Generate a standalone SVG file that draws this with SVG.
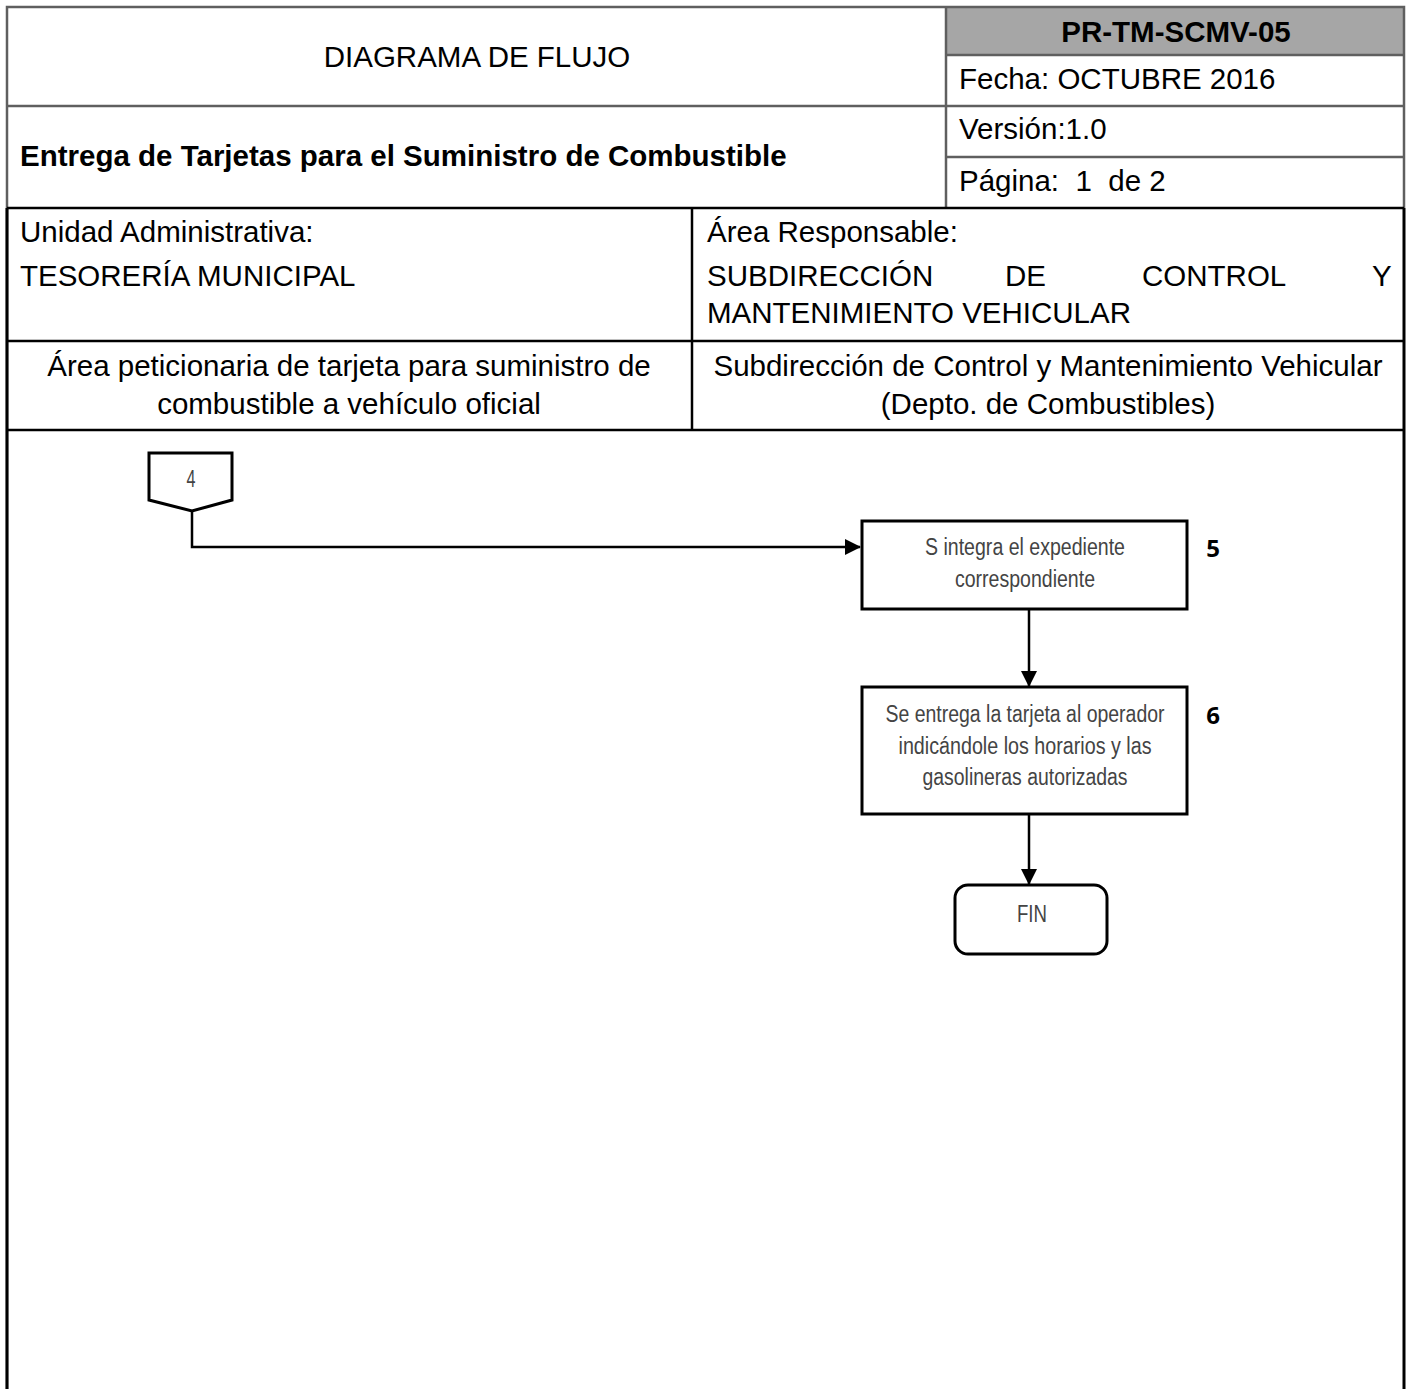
<svg xmlns="http://www.w3.org/2000/svg" width="1408" height="1389" viewBox="0 0 1408 1389">
<style>
.h{font-family:"Liberation Sans",Arial,sans-serif;font-size:29.5px;fill:#000}
.hb{font-family:"Liberation Sans",Arial,sans-serif;font-size:29.5px;font-weight:bold;fill:#000}
.gl{stroke:#5f5f5f;stroke-width:2.5;fill:none}
.bl{stroke:#000;stroke-width:2.5;fill:none}
.box{fill:#fff;stroke:#000;stroke-width:3}
.ft{font-family:"Liberation Sans Narrow","Liberation Sans",Arial,sans-serif;font-size:23px;fill:#444;text-anchor:middle}
.num{font-family:"Open Sans","Liberation Sans",sans-serif;font-size:24px;font-weight:bold;fill:#000;text-anchor:middle}
.cn{stroke:#000;stroke-width:2.5;fill:none}
</style>
<defs>
<marker id="ahb" markerWidth="16" markerHeight="16" refX="15" refY="8" orient="auto" markerUnits="userSpaceOnUse" viewBox="0 0 16 16">
<path d="M0,0 L16,8 L0,16 z" fill="#000"/>
</marker>
</defs>
<rect width="1408" height="1389" fill="#fff"/>
<g id="header">
<rect x="946" y="7" width="458" height="48" fill="#a6a6a6"/>
<path class="gl" d="M7,1389 V7 H1404 V208"/>
<line class="gl" x1="946" y1="7" x2="946" y2="208"/>
<line class="gl" x1="7" y1="106" x2="1404" y2="106"/>
<line class="gl" x1="946" y1="55" x2="1404" y2="55"/>
<line class="gl" x1="946" y1="157" x2="1404" y2="157"/>
<text class="h" x="477" y="67" text-anchor="middle">DIAGRAMA DE FLUJO</text>
<text class="hb" x="1176" y="42" text-anchor="middle">PR-TM-SCMV-05</text>
<text class="h" x="959" y="89">Fecha: OCTUBRE 2016</text>
<text class="hb" x="20" y="166">Entrega de Tarjetas para el Suministro de Combustible</text>
<text class="h" x="959" y="139">Versión:1.0</text>
<text class="h" x="959" y="191" xml:space="preserve">Página:  1  de 2</text>
</g>
<g id="info">
<path d="M7,208 V1389 M1404,208 V1389" stroke="#000" stroke-width="3" fill="none"/>
<line class="bl" x1="7" y1="208" x2="1404" y2="208"/>
<line class="bl" x1="692" y1="208" x2="692" y2="430"/>
<line class="bl" x1="7" y1="341" x2="1404" y2="341"/>
<line class="bl" x1="7" y1="430" x2="1404" y2="430"/>
<text class="h" x="20" y="242">Unidad Administrativa:</text>
<text class="h" x="20" y="286">TESORERÍA MUNICIPAL</text>
<text class="h" x="707" y="242">Área Responsable:</text>
<text class="h" x="707" y="286">SUBDIRECCIÓN</text>
<text class="h" x="1005" y="286">DE</text>
<text class="h" x="1142" y="286">CONTROL</text>
<text class="h" x="1372" y="286">Y</text>
<text class="h" x="707" y="323">MANTENIMIENTO VEHICULAR</text>
<text class="h" x="349" y="376" text-anchor="middle">Área peticionaria de tarjeta para suministro de</text>
<text class="h" x="349" y="414" text-anchor="middle">combustible a vehículo oficial</text>
<text class="h" x="1048" y="376" text-anchor="middle">Subdirección de Control y Mantenimiento Vehicular</text>
<text class="h" x="1048" y="414" text-anchor="middle">(Depto. de Combustibles)</text>
</g>
<g id="connectors">
<path class="cn" d="M192,511 V547 H860" marker-end="url(#ahb)"/>
<path class="cn" d="M1029,609 V686" marker-end="url(#ahb)"/>
<path class="cn" d="M1029,814 V884" marker-end="url(#ahb)"/>
</g>
<g id="node-4">
<path class="box" d="M149,453 H232 V500 L192,511 L149,500 Z"/>
<text class="ft" x="191" y="487" font-size="21" textLength="9" lengthAdjust="spacingAndGlyphs">4</text>
</g>
<g id="node-5">
<rect class="box" x="862" y="521" width="325" height="88"/>
<text class="ft" x="1025" y="555" textLength="200" lengthAdjust="spacingAndGlyphs">S integra el expediente</text>
<text class="ft" x="1025" y="587" textLength="140" lengthAdjust="spacingAndGlyphs">correspondiente</text>
<text class="num" x="1213" y="557">5</text>
</g>
<g id="node-6">
<rect class="box" x="862" y="687" width="325" height="127"/>
<text class="ft" x="1025" y="722" textLength="279" lengthAdjust="spacingAndGlyphs">Se entrega la tarjeta al operador</text>
<text class="ft" x="1025" y="754" textLength="253" lengthAdjust="spacingAndGlyphs">indicándole los horarios y las</text>
<text class="ft" x="1025" y="785" textLength="205" lengthAdjust="spacingAndGlyphs">gasolineras autorizadas</text>
<text class="num" x="1213" y="724">6</text>
</g>
<g id="node-fin">
<rect class="box" x="955" y="885" width="152" height="69" rx="13" ry="13"/>
<text class="ft" x="1032" y="922" textLength="30" lengthAdjust="spacingAndGlyphs">FIN</text>
</g>
</svg>
